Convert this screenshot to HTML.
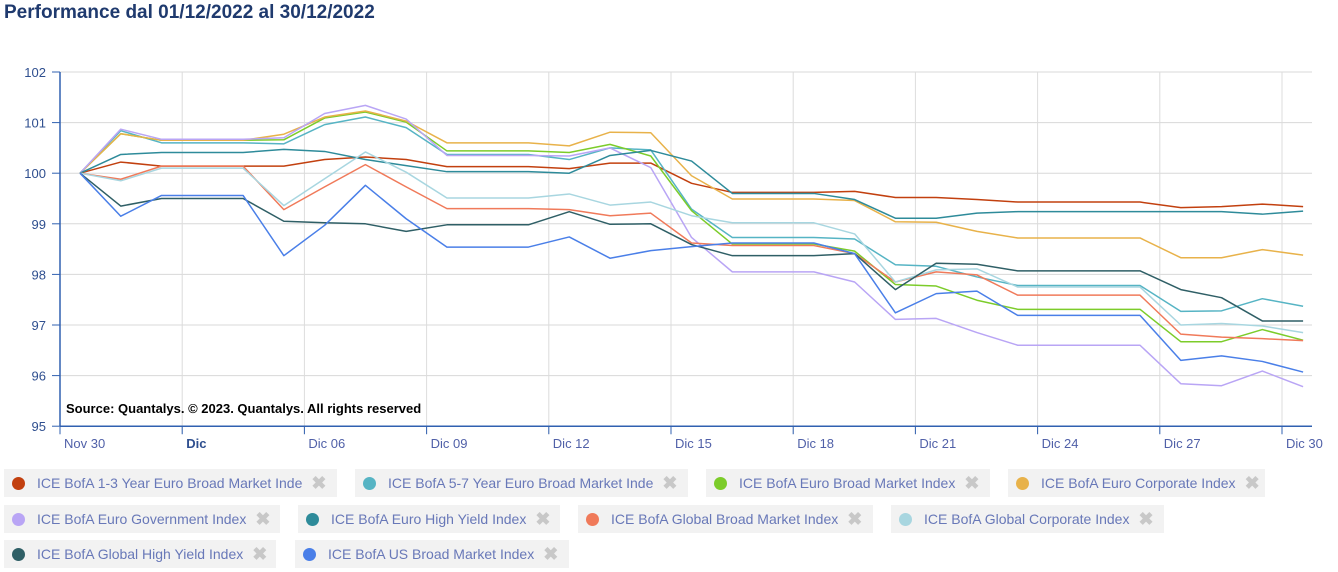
<!DOCTYPE html>
<html><head><meta charset="utf-8">
<style>
body{margin:0;width:1338px;height:572px;background:#fff;font-family:"Liberation Sans",Arial,sans-serif;overflow:hidden;position:relative}
h1{position:absolute;left:4px;top:2px;margin:0;font-size:19px;font-weight:bold;color:#1f3a6e}
.lg{position:absolute;height:28px;background:#f2f2f2;display:flex;align-items:center;font-size:14px;color:#6878b8;white-space:nowrap}
.lg .d{width:13px;height:13px;border-radius:50%;margin:0 12px 0 8px}
.lg .x{color:#c8c8c8;font-weight:bold;font-size:18px;margin-left:9px}
</style></head><body>
<h1>Performance dal 01/12/2022 al 30/12/2022</h1>
<svg id="chart" width="1338" height="465" style="position:absolute;left:0;top:0"></svg>
<div id="legend"></div>
<script>
const tickLabels=["Nov 30","Dic","Dic 06","Dic 09","Dic 12","Dic 15","Dic 18","Dic 21","Dic 24","Dic 27","Dic 30"];
const yTicks=[95,96,97,98,99,100,101,102];
const names=["ICE BofA 1-3 Year Euro Broad Market Inde","ICE BofA 5-7 Year Euro Broad Market Inde","ICE BofA Euro Broad Market Index","ICE BofA Euro Corporate Index","ICE BofA Euro Government Index","ICE BofA Euro High Yield Index","ICE BofA Global Broad Market Index","ICE BofA Global Corporate Index","ICE BofA Global High Yield Index","ICE BofA US Broad Market Index"];
const colors=["#c2400f","#56b4c4","#7ccc2a","#e8b24a","#b9a5f5","#2e8b9a","#f07a5a","#a8d6e0","#2f5f66","#4a7fe8"];
const s0=[100,100.22,100.14,100.14,100.14,100.14,100.27,100.32,100.27,100.13,100.13,100.13,100.09,100.2,100.2,99.8,99.62,99.62,99.62,99.64,99.52,99.52,99.48,99.43,99.43,99.43,99.43,99.32,99.34,99.39,99.34];
const s1=[100,100.84,100.6,100.6,100.6,100.58,100.96,101.11,100.9,100.37,100.37,100.37,100.27,100.5,100.46,99.29,98.73,98.73,98.73,98.7,98.19,98.16,97.95,97.78,97.78,97.78,97.78,97.27,97.28,97.52,97.37];
const s2=[100,100.78,100.65,100.65,100.65,100.66,101.09,101.21,101.01,100.44,100.44,100.44,100.41,100.57,100.34,99.26,98.6,98.6,98.6,98.46,97.8,97.77,97.49,97.31,97.31,97.31,97.31,96.67,96.67,96.91,96.7];
const s3=[100,100.78,100.65,100.65,100.65,100.77,101.11,101.23,101.03,100.6,100.6,100.6,100.54,100.81,100.8,99.95,99.49,99.49,99.49,99.46,99.04,99.03,98.85,98.72,98.72,98.72,98.72,98.33,98.33,98.49,98.38];
const s4=[100,100.87,100.67,100.67,100.67,100.7,101.18,101.34,101.07,100.35,100.35,100.35,100.34,100.5,100.11,98.73,98.05,98.05,98.05,97.85,97.11,97.13,96.85,96.6,96.6,96.6,96.6,95.84,95.8,96.09,95.78];
const s5=[100,100.37,100.41,100.41,100.41,100.47,100.43,100.27,100.15,100.03,100.03,100.03,100.0,100.35,100.45,100.24,99.6,99.6,99.6,99.48,99.11,99.11,99.21,99.24,99.24,99.24,99.24,99.24,99.24,99.19,99.25];
const s6=[100,99.88,100.14,100.14,100.14,99.28,99.73,100.17,99.73,99.3,99.3,99.3,99.28,99.16,99.21,98.62,98.57,98.57,98.57,98.41,97.85,98.05,97.99,97.59,97.59,97.59,97.59,96.82,96.76,96.73,96.69];
const s7=[100,99.85,100.1,100.1,100.1,99.36,99.89,100.42,100.02,99.51,99.51,99.51,99.59,99.37,99.43,99.16,99.02,99.02,99.02,98.8,97.85,98.09,98.11,97.75,97.75,97.75,97.75,97.0,97.03,96.98,96.85];
const s8=[100,99.35,99.5,99.5,99.5,99.05,99.02,99.0,98.85,98.98,98.98,98.98,99.24,98.99,99.0,98.59,98.37,98.37,98.37,98.41,97.7,98.22,98.2,98.07,98.07,98.07,98.07,97.7,97.54,97.08,97.08];
const s9=[100,99.15,99.56,99.56,99.56,98.37,98.97,99.76,99.1,98.54,98.54,98.54,98.74,98.32,98.47,98.55,98.62,98.62,98.62,98.41,97.24,97.62,97.67,97.19,97.19,97.19,97.19,96.3,96.39,96.28,96.07];
const series=[s0,s1,s2,s3,s4,s5,s6,s7,s8,s9];
const NS="http://www.w3.org/2000/svg";
const svg=document.getElementById('chart');
const X0=80,DX=40.77,Y0=72,YH=50.6;
function xs(i){return X0+i*DX;}
function xt(k){return 60+k*122.2;}
function ys(v){return Y0+(102-v)*YH;}
function mk(t,a){const e=document.createElementNS(NS,t);for(const k in a)e.setAttribute(k,a[k]);svg.appendChild(e);return e;}
yTicks.forEach(v=>{
 const g=mk('line',{x1:60,x2:1312,y1:ys(v),y2:ys(v),stroke:'#d8d8d8','stroke-width':1});
 
 
 const t=mk('text',{x:46,y:ys(v)+5,'text-anchor':'end','font-size':13,fill:'#2f4f8f'});
 t.textContent=v;
 
 
 mk('line',{x1:52,x2:60,y1:ys(v),y2:ys(v),stroke:'#3060b0'});
});
tickLabels.forEach((d,k)=>{
 const x=xt(k);
 const gl=mk('line',{x1:x,x2:x,y1:Y0,y2:ys(95)+8,stroke:'#dcdcdc'});
 
 
 mk('line',{x1:x,x2:x,y1:ys(95),y2:ys(95)+8,stroke:'#3060b0'});
 const t=mk('text',{x:x+4,y:448,'text-anchor':'start','font-size':13,fill:d==='Dic'?'#2f4f8f':'#5060a8','font-weight':d==='Dic'?'bold':'normal'});
 t.textContent=d;
 
 
});
mk('line',{x1:60,x2:60,y1:Y0,y2:ys(95),stroke:'#3060b0','stroke-width':1.5});
mk('line',{x1:60,x2:1312,y1:ys(95),y2:ys(95),stroke:'#3060b0','stroke-width':1.5});
series.forEach((s,k)=>{
 const p=mk('polyline',{points:s.map((v,i)=>xs(i)+','+ys(v)).join(' '),fill:'none',stroke:colors[k],'stroke-width':1.5,'stroke-linejoin':'round'});
 
 
});
const src=mk('text',{x:66,y:413,'font-size':13,'font-weight':'bold',fill:'#000'});
src.textContent='Source: Quantalys. © 2023. Quantalys. All rights reserved';


const pos=[[4,469,333],[355,469,333],[706,469,284],[1008,469,257],[4,505,276],[298,505,262],[578,505,295],[891,505,273],[4,540,272],[295,540,274]];
const leg=document.getElementById('legend');
names.forEach((n,k)=>{
 const d=document.createElement('div');
 d.className='lg';
 
 
 d.style.left=pos[k][0]+'px';d.style.top=pos[k][1]+'px';d.style.width=pos[k][2]+'px';
 d.innerHTML='<span class="d" style="background:'+colors[k]+'"></span><span>'+n+'</span><span class="x">✖</span>';
 leg.appendChild(d);
});
</script>
</body></html>
